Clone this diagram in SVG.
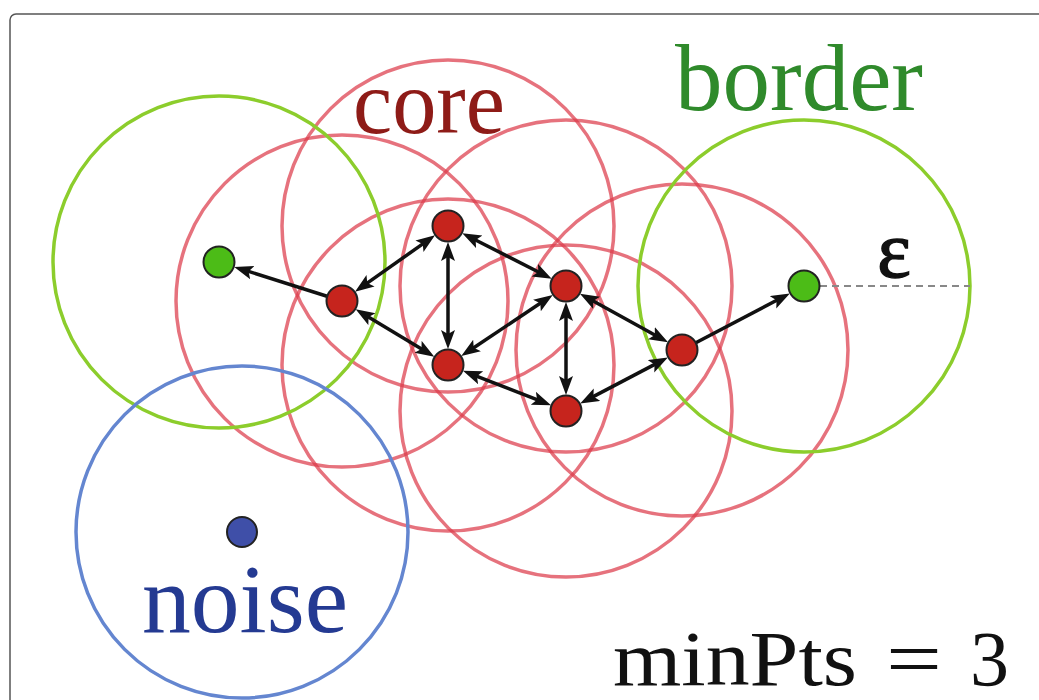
<svg xmlns="http://www.w3.org/2000/svg" width="1039" height="700" viewBox="0 0 1039 700">
<style>
.rc{fill:none;stroke:#dc3c4b;stroke-opacity:0.72;stroke-width:3.5}
.gc{fill:none;stroke:#8ccd2c;stroke-width:3.5}
.bc{fill:none;stroke:#6486d0;stroke-width:3.5}
.edge{stroke:#111;stroke-width:3.5;fill:none}
.one{marker-end:url(#ah)}
.two{marker-start:url(#ah);marker-end:url(#ah)}
.core{fill:#c6241d;stroke:#222;stroke-width:2}
.bord{fill:#4cbc17;stroke:#222;stroke-width:2}
.noi{fill:#3f4fa8;stroke:#222;stroke-width:2}
.lbl{font-family:"Liberation Serif","DejaVu Serif",serif}
</style>
<defs>
<marker id="ah" markerUnits="userSpaceOnUse" markerWidth="22" markerHeight="16" refX="8" refY="7" orient="auto-start-reverse" viewBox="0 0 22 16">
<path d="M0,0 L19,7 L0,14 L4,7 z" fill="#111"/>
</marker>
</defs>
<rect x="10" y="14" width="1100" height="800" rx="6" fill="#fff" stroke="#555" stroke-width="1.5"/>
<g id="regions">
<circle class="rc" cx="342" cy="301" r="166"/>
<circle class="rc" cx="448" cy="226" r="166"/>
<circle class="rc" cx="566" cy="286" r="166"/>
<circle class="rc" cx="448" cy="365" r="166"/>
<circle class="rc" cx="566" cy="411" r="166"/>
<circle class="rc" cx="682" cy="350" r="166"/>
<circle class="gc" cx="219" cy="262" r="166"/>
<circle class="gc" cx="804" cy="286" r="166"/>
<circle class="bc" cx="242" cy="532" r="166"/>
</g>
<line x1="820" y1="286" x2="970" y2="286" stroke="#888" stroke-width="2" stroke-dasharray="7,5"/>
<g id="connectors">
<line class="edge one" x1="342" y1="301" x2="244.7" y2="270.2"/>
<line class="edge two" x1="364.0" y1="285.4" x2="426.0" y2="241.6"/>
<line class="edge two" x1="365.1" y1="315.0" x2="424.9" y2="351.0"/>
<line class="edge two" x1="448" y1="253" x2="448" y2="338"/>
<line class="edge two" x1="472.1" y1="238.2" x2="541.9" y2="273.8"/>
<line class="edge two" x1="543.6" y1="301.0" x2="470.4" y2="350.0"/>
<line class="edge two" x1="566" y1="313" x2="566" y2="384"/>
<line class="edge two" x1="589.6" y1="299.0" x2="658.4" y2="337.0"/>
<line class="edge two" x1="473.2" y1="374.8" x2="540.8" y2="401.2"/>
<line class="edge two" x1="589.9" y1="398.4" x2="658.1" y2="362.6"/>
<line class="edge one" x1="682" y1="350" x2="780.1" y2="298.5"/>
</g>
<g id="nodeA"><circle class="core" cx="342" cy="301" r="15.5"/></g>
<g id="nodeB"><circle class="core" cx="448" cy="226" r="15.5"/></g>
<g id="nodeC"><circle class="core" cx="566" cy="286" r="15.5"/></g>
<g id="nodeD"><circle class="core" cx="448" cy="365" r="15.5"/></g>
<g id="nodeE"><circle class="core" cx="566" cy="411" r="15.5"/></g>
<g id="nodeF"><circle class="core" cx="682" cy="350" r="15.5"/></g>
<g id="borderL"><circle class="bord" cx="219" cy="262" r="15.5"/></g>
<g id="borderR"><circle class="bord" cx="804" cy="286" r="15.5"/></g>
<g id="noisePt"><circle class="noi" cx="242" cy="532" r="15"/></g>
<g id="labels">
<text class="lbl" x="353" y="133" font-size="90" fill="#8e1b17" textLength="152" lengthAdjust="spacingAndGlyphs">core</text>
<text class="lbl" x="675" y="110" font-size="95" fill="#2f8a2b" textLength="248" lengthAdjust="spacingAndGlyphs">border</text>
<text class="lbl" x="142" y="632" font-size="97" fill="#243a92" textLength="206" lengthAdjust="spacingAndGlyphs">noise</text>
<text class="lbl" x="894" y="277" font-size="80" fill="#111" stroke="#111" stroke-width="1.5" text-anchor="middle">ε</text>
<text class="lbl" y="685" font-size="78" fill="#111"><tspan x="613" textLength="244" lengthAdjust="spacingAndGlyphs">minPts</tspan><tspan x="886" textLength="56" lengthAdjust="spacingAndGlyphs">=</tspan><tspan x="970">3</tspan></text>
</g>
</svg>
